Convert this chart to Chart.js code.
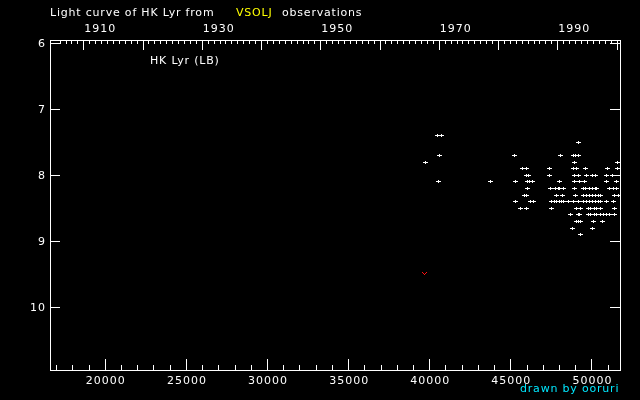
<!DOCTYPE html>
<html>
<head>
<meta charset="utf-8">
<title>Light curve of HK Lyr</title>
<script src="https://cdn.jsdelivr.net/npm/chart.js@4.4.1/dist/chart.umd.min.js"></script>
<style>
  html, body { margin: 0; padding: 0; background: #000; }
  #wrap { width: 640px; height: 400px; }
</style>
</head>
<body>
<div id="wrap"><canvas id="lc" width="640" height="400"></canvas></div>
<script>
// visual estimates, JD - 2400000 and magnitude
const visJD = [
  40530, 40740,
  49190,
  40630, 45250, 48080, 48880, 49040, 49190,
  39770, 48940, 51590,
  45740, 45970, 47400, 48880, 49090, 49660, 50980, 51590,
  45970, 46090, 47400, 48940, 49190, 49710, 50050, 50280, 50940, 51310,
  40570, 43770, 45310, 46030, 46200, 46360, 48060, 48940, 49290, 49600, 50900, 51530,
  46030, 47450, 47760, 47940, 48060, 48270, 48940, 49480, 49660, 49850, 50040, 50220, 50320, 51140, 51330, 51560,
  45850, 46010, 47860, 48200, 49000, 49480, 49670, 49850, 50040, 50230, 50430, 50530, 51450, 51650,
  45310, 46230, 46440, 47550, 47700, 47850, 48000, 48150, 48270, 48570, 48880, 49190, 49480, 49670, 49860, 50050, 50240, 50430, 50530, 50940, 51350,
  45620, 46010, 47550, 49050, 49310, 49790, 49970, 50160, 50340, 50530, 51450,
  48700, 49190, 49290, 49790, 49970, 50160, 50340, 50530, 50730, 50900, 51140, 51430,
  49050, 49190, 49350, 50110, 50690,
  48850, 50080,
  49300
];
const visMag = [
  7.4, 7.4,
  7.5,
  7.7, 7.7, 7.7, 7.7, 7.7, 7.7,
  7.8, 7.8, 7.8,
  7.9, 7.9, 7.9, 7.9, 7.9, 7.9, 7.9, 7.9,
  8.0, 8.0, 8.0, 8.0, 8.0, 8.0, 8.0, 8.0, 8.0, 8.0,
  8.1, 8.1, 8.1, 8.1, 8.1, 8.1, 8.1, 8.1, 8.1, 8.1, 8.1, 8.1,
  8.2, 8.2, 8.2, 8.2, 8.2, 8.2, 8.2, 8.2, 8.2, 8.2, 8.2, 8.2, 8.2, 8.2, 8.2, 8.2,
  8.3, 8.3, 8.3, 8.3, 8.3, 8.3, 8.3, 8.3, 8.3, 8.3, 8.3, 8.3, 8.3, 8.3,
  8.4, 8.4, 8.4, 8.4, 8.4, 8.4, 8.4, 8.4, 8.4, 8.4, 8.4, 8.4, 8.4, 8.4, 8.4, 8.4, 8.4, 8.4, 8.4, 8.4, 8.4,
  8.5, 8.5, 8.5, 8.5, 8.5, 8.5, 8.5, 8.5, 8.5, 8.5, 8.5,
  8.6, 8.6, 8.6, 8.6, 8.6, 8.6, 8.6, 8.6, 8.6, 8.6, 8.6, 8.6,
  8.7, 8.7, 8.7, 8.7, 8.7,
  8.8, 8.8,
  8.9
];
// fainter-than estimate (red mark)
const limJD = [39700];
const limMag = [9.5];

const jdTicks = [20000, 25000, 30000, 35000, 40000, 45000, 50000];
const magTicks = [6, 7, 8, 9, 10];
const yearLabels = [1910, 1930, 1950, 1970, 1990];

const JD_MIN = 16620, JD_MAX = 51760;

// year -> JD-2400000 (Jan 1)
function yearToJD(yr) {
  return 15020.5 + (yr - 1900) * 365.2422;
}

// small marker pictures
function plusMark() {
  const c = document.createElement("canvas");
  c.width = 5; c.height = 3;
  const g = c.getContext("2d");
  g.fillStyle = "#fff";
  g.fillRect(0, 1, 5, 1);
  g.fillRect(2, 0, 1, 3);
  return c;
}
function vMark() {
  const c = document.createElement("canvas");
  c.width = 5; c.height = 5;
  const g = c.getContext("2d");
  g.fillStyle = "#ff1010";
  g.fillRect(0, 0, 1, 1);
  g.fillRect(1, 1, 1, 1);
  g.fillRect(2, 2, 1, 1);
  g.fillRect(3, 1, 1, 1);
  g.fillRect(4, 0, 1, 1);
  return c;
}

const frame = {
  id: "frame",
  beforeDraw(chart) {
    const ctx = chart.ctx;
    ctx.save();
    ctx.fillStyle = "#000";
    ctx.fillRect(0, 0, chart.width, chart.height);
    ctx.restore();
  },
  beforeDatasetsDraw(chart) {
    // keep the tiny markers crisp
    chart.ctx.imageSmoothingEnabled = false;
  },
  afterDatasetsDraw(chart) {
    chart.ctx.imageSmoothingEnabled = true;
  },
  afterDraw(chart) {
    const { ctx, chartArea: a, scales: { x, y } } = chart;
    ctx.save();
    ctx.strokeStyle = "#fff";
    ctx.lineWidth = 1;
    ctx.strokeRect(a.left + 0.5, a.top + 0.5, a.right - a.left, a.bottom - a.top);

    ctx.beginPath();
    // bottom: JD ticks
    for (let v = 17000; v <= 51000; v += 1000) {
      const px = Math.round(x.getPixelForValue(v)) + 0.5;
      const len = v % 5000 === 0 ? 11 : 5;
      ctx.moveTo(px, a.bottom);
      ctx.lineTo(px, a.bottom - len);
    }
    // top: year ticks
    for (let yr = 1906; yr <= 2000; yr++) {
      const px = Math.round(x.getPixelForValue(yearToJD(yr))) + 0.5;
      const len = yr % 10 === 0 ? 10 : 4;
      ctx.moveTo(px, a.top);
      ctx.lineTo(px, a.top + len);
    }
    // left / right: magnitude ticks
    magTicks.forEach(m => {
      const py = Math.round(y.getPixelForValue(m)) + 0.5;
      ctx.moveTo(a.left, py); ctx.lineTo(a.left + 10, py);
      ctx.moveTo(a.right, py); ctx.lineTo(a.right - 10, py);
    });
    ctx.stroke();

    ctx.fillStyle = "#fff";
    ctx.font = "11px 'DejaVu Sans'";
    ctx.letterSpacing = "1px";
    ctx.textAlign = "center";
    jdTicks.forEach(v => {
      ctx.fillText(String(v), x.getPixelForValue(v) + 1, 384);
    });
    ctx.textAlign = "left";
    yearLabels.forEach(yr => {
      ctx.fillText(String(yr), x.getPixelForValue(yearToJD(yr)) + 1, 32);
    });
    ctx.textAlign = "right";
    magTicks.forEach(m => {
      ctx.fillText(String(m), 46, y.getPixelForValue(m) + 4);
    });

    ctx.letterSpacing = "0.8px";
    ctx.textAlign = "left";
    ctx.fillText("Light curve of HK Lyr from", 50, 16);
    ctx.fillStyle = "#ffff00";
    ctx.fillText("VSOLJ", 236, 16);
    ctx.fillStyle = "#fff";
    ctx.fillText("observations", 282, 16);
    ctx.fillText("HK Lyr (LB)", 150, 64);
    ctx.fillStyle = "#00e8ff";
    ctx.fillText("drawn by ooruri", 520, 392);
    ctx.restore();
  }
};

new Chart(document.getElementById("lc"), {
  type: "scatter",
  data: {
    datasets: [
      {
        data: visJD.map((v, i) => ({ x: v, y: visMag[i] })),
        pointStyle: plusMark(),
        pointRadius: 2
      },
      {
        data: limJD.map((v, i) => ({ x: v, y: limMag[i] })),
        pointStyle: vMark(),
        pointRadius: 2
      }
    ]
  },
  options: {
    responsive: false,
    animation: false,
    devicePixelRatio: 1,
    layout: { padding: { left: 50, right: 20, top: 40, bottom: 30 } },
    plugins: { legend: { display: false }, tooltip: { enabled: false } },
    scales: {
      x: { type: "linear", min: JD_MIN, max: JD_MAX, display: false },
      y: { min: 5.95, max: 10.95, reverse: true, display: false }
    }
  },
  plugins: [frame]
});
</script>
</body>
</html>
